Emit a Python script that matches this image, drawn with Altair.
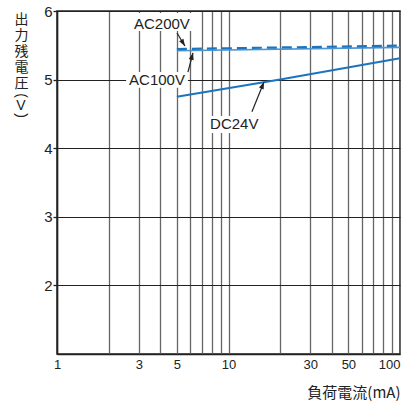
import math
import altair as alt
import pandas as pd

# Output residual voltage vs. load current (log x axis)
dc_current = [5, 20, 100]
dc24v = [4.75, 5.00, 5.31]
ac_current = [5, 100]
ac100v = [5.42, 5.47]
ac200v = [5.445, 5.495]

x_grid = [1, 2, 3, 4, 5, 6, 7, 8, 9, 10, 20, 30, 40, 50, 60, 70, 80, 90, 100]
x_labels = [1, 3, 5, 10, 30, 50, 100]
y_ticks = [2, 3, 4, 5, 6]

# Callout labels, their white backing boxes and leader arrows (data units)
labels = ["AC200V", "AC100V", "DC24V"]
label_x = [4.09, 3.83, 10.8]
label_y = [5.81, 5.0, 4.35]
box_x = [2.70, 2.53, 7.49]
box_x2 = [6.21, 5.80, 15.3]
box_y = [5.97, 5.11, 4.47]
box_y2 = [5.71, 4.88, 4.22]
arrow_x = [5.01, 5.80, 13.7]
arrow_y = [5.68, 5.11, 4.53]
arrow_x2 = [5.57, 6.21, 16.1]
arrow_y2 = [5.49, 5.39, 4.965]

# Vertical y-axis title: kanji stacked, then the unit in upright brackets
title_chars = ["出", "力", "残", "電", "圧"]
unit_chars = ["(", "V", ")"]
unit_angles = [90, 0, 90]
unit_offsets = [84.5, 95, 104.5]

W, H = 343, 343
X_MIN, X_MAX = 1, 100
Y_MIN, Y_MAX = 1, 6
TITLE_X = -36

BLUE = "#1b74bd"
INK = "#222222"
FONT = "Liberation Sans"
JP_FONT = "Noto Sans CJK JP"

lines = pd.DataFrame(
    [{"series": "DC24V", "i": i, "x": a, "y": b} for i, (a, b) in enumerate(zip(dc_current, dc24v))]
    + [{"series": "AC100V", "i": i, "x": a, "y": b} for i, (a, b) in enumerate(zip(ac_current, ac100v))]
    + [{"series": "AC200V", "i": i, "x": a, "y": b} for i, (a, b) in enumerate(zip(ac_current, ac200v))]
)


def px(x):
    return W * (math.log10(x) - math.log10(X_MIN)) / (math.log10(X_MAX) - math.log10(X_MIN))


def py(y):
    return H * (Y_MAX - y) / (Y_MAX - Y_MIN)


angles = []
for x1, y1, x2, y2 in zip(arrow_x, arrow_y, arrow_x2, arrow_y2):
    dx = px(x2) - px(x1)
    dy = py(y2) - py(y1)
    angles.append(math.degrees(math.atan2(dx, -dy)) % 360)

notes = pd.DataFrame({
    "label": labels, "lx": label_x, "ly": label_y,
    "bx": box_x, "bx2": box_x2, "by": box_y, "by2": box_y2,
    "ax": arrow_x, "ay": arrow_y, "ax2": arrow_x2, "ay2": arrow_y2,
    "ang": angles,
})

xs = alt.Scale(type="log", domain=[X_MIN, X_MAX], nice=False)
ys = alt.Scale(domain=[Y_MIN, Y_MAX], nice=False, zero=False)

label_list = ",".join(str(v) for v in x_labels)
x_axis = alt.Axis(
    values=x_grid,
    labelExpr=f"indexof([{label_list}], datum.value) >= 0 ? '' + datum.value : ''",
    labelOverlap=False,
    labelAlign={"condition": {"test": "datum.value == 100", "value": "right"}, "value": "center"},
    ticks=False,
    labelPadding=4,
    labelFont=FONT,
    labelFontSize=13,
    labelColor=INK,
    grid=True,
    gridColor="#666666",
    gridWidth=1.3,
    domainColor=INK,
    domainWidth=1.5,
    title="負荷電流(mA)",
    titleFont=JP_FONT,
    titleFontSize=15,
    titleFontWeight="normal",
    titleColor=INK,
    titleAnchor="end",
    titleAlign="right",
    titleBaseline="middle",
    titleX=W,
    titleY=38,
)
y_axis = alt.Axis(
    values=y_ticks,
    tickSize=4,
    tickColor=INK,
    tickWidth=1.3,
    labelPadding=1,
    labelFont=FONT,
    labelFontSize=15,
    labelColor=INK,
    grid=True,
    gridColor=INK,
    gridWidth=1.2,
    domainColor=INK,
    domainWidth=1.5,
    title=title_chars,
    titleFont=JP_FONT,
    titleFontSize=14,
    titleFontWeight="normal",
    titleColor=INK,
    titleAngle=0,
    titleAlign="center",
    titleBaseline="top",
    titleLineHeight=16.2,
    titleX=TITLE_X,
    titleY=1,
)


def X(field):
    return alt.X(field, type="quantitative", scale=xs, axis=x_axis)


def Y(field):
    return alt.Y(field, type="quantitative", scale=ys, axis=y_axis)


base_lines = alt.Chart(lines)

dc_line = base_lines.transform_filter(alt.datum.series == "DC24V").mark_line(
    color=BLUE, strokeWidth=2
).encode(x=X("x"), y=Y("y"), order="i:O")

ac100_line = base_lines.transform_filter(alt.datum.series == "AC100V").mark_line(
    color="#4a95d3", strokeWidth=1.6
).encode(x=X("x"), y=Y("y"), order="i:O")

ac200_line = base_lines.transform_filter(alt.datum.series == "AC200V").mark_line(
    color=BLUE, strokeWidth=2.2, strokeDash=[10, 5]
).encode(x=X("x"), y=Y("y"), order="i:O")

base_notes = alt.Chart(notes)

boxes = base_notes.mark_rect(fill="white", stroke=None).encode(
    x=X("bx"), x2="bx2", y=Y("by"), y2="by2"
)

texts = base_notes.mark_text(
    font=FONT, fontSize=15, color=INK, align="center", baseline="middle"
).encode(x=X("lx"), y=Y("ly"), text="label:N")

shafts = base_notes.mark_rule(color=INK, strokeWidth=1.2).encode(
    x=X("ax"), y=Y("ay"), x2="ax2", y2="ay2"
)

heads = base_notes.mark_point(
    shape="M0,0L-0.36,1L0.36,1Z", filled=True, size=196, color=INK, opacity=1
).encode(x=X("ax2"), y=Y("ay2"), angle=alt.Angle("ang:Q", scale=None))

# unit "(V)" under the stacked title, brackets turned to run vertically
unit_layers = [
    alt.Chart(pd.DataFrame({"t": [ch]})).mark_text(
        font=FONT, fontSize=14, color=INK, align="center", baseline="middle", angle=ang
    ).encode(x=alt.value(TITLE_X), y=alt.value(off), text="t:N")
    for ch, ang, off in zip(unit_chars, unit_angles, unit_offsets)
]

chart = alt.layer(
    boxes, dc_line, ac100_line, ac200_line, texts, shafts, heads, *unit_layers
).properties(
    width=W,
    height=H,
    autosize=alt.AutoSizeParams(type="none"),
    padding={"left": 57, "top": 11, "right": 1, "bottom": 47},
).configure_view(
    stroke=INK, strokeWidth=1.5
)

chart.save("out.html", embed_options={"renderer": "svg", "actions": False})
